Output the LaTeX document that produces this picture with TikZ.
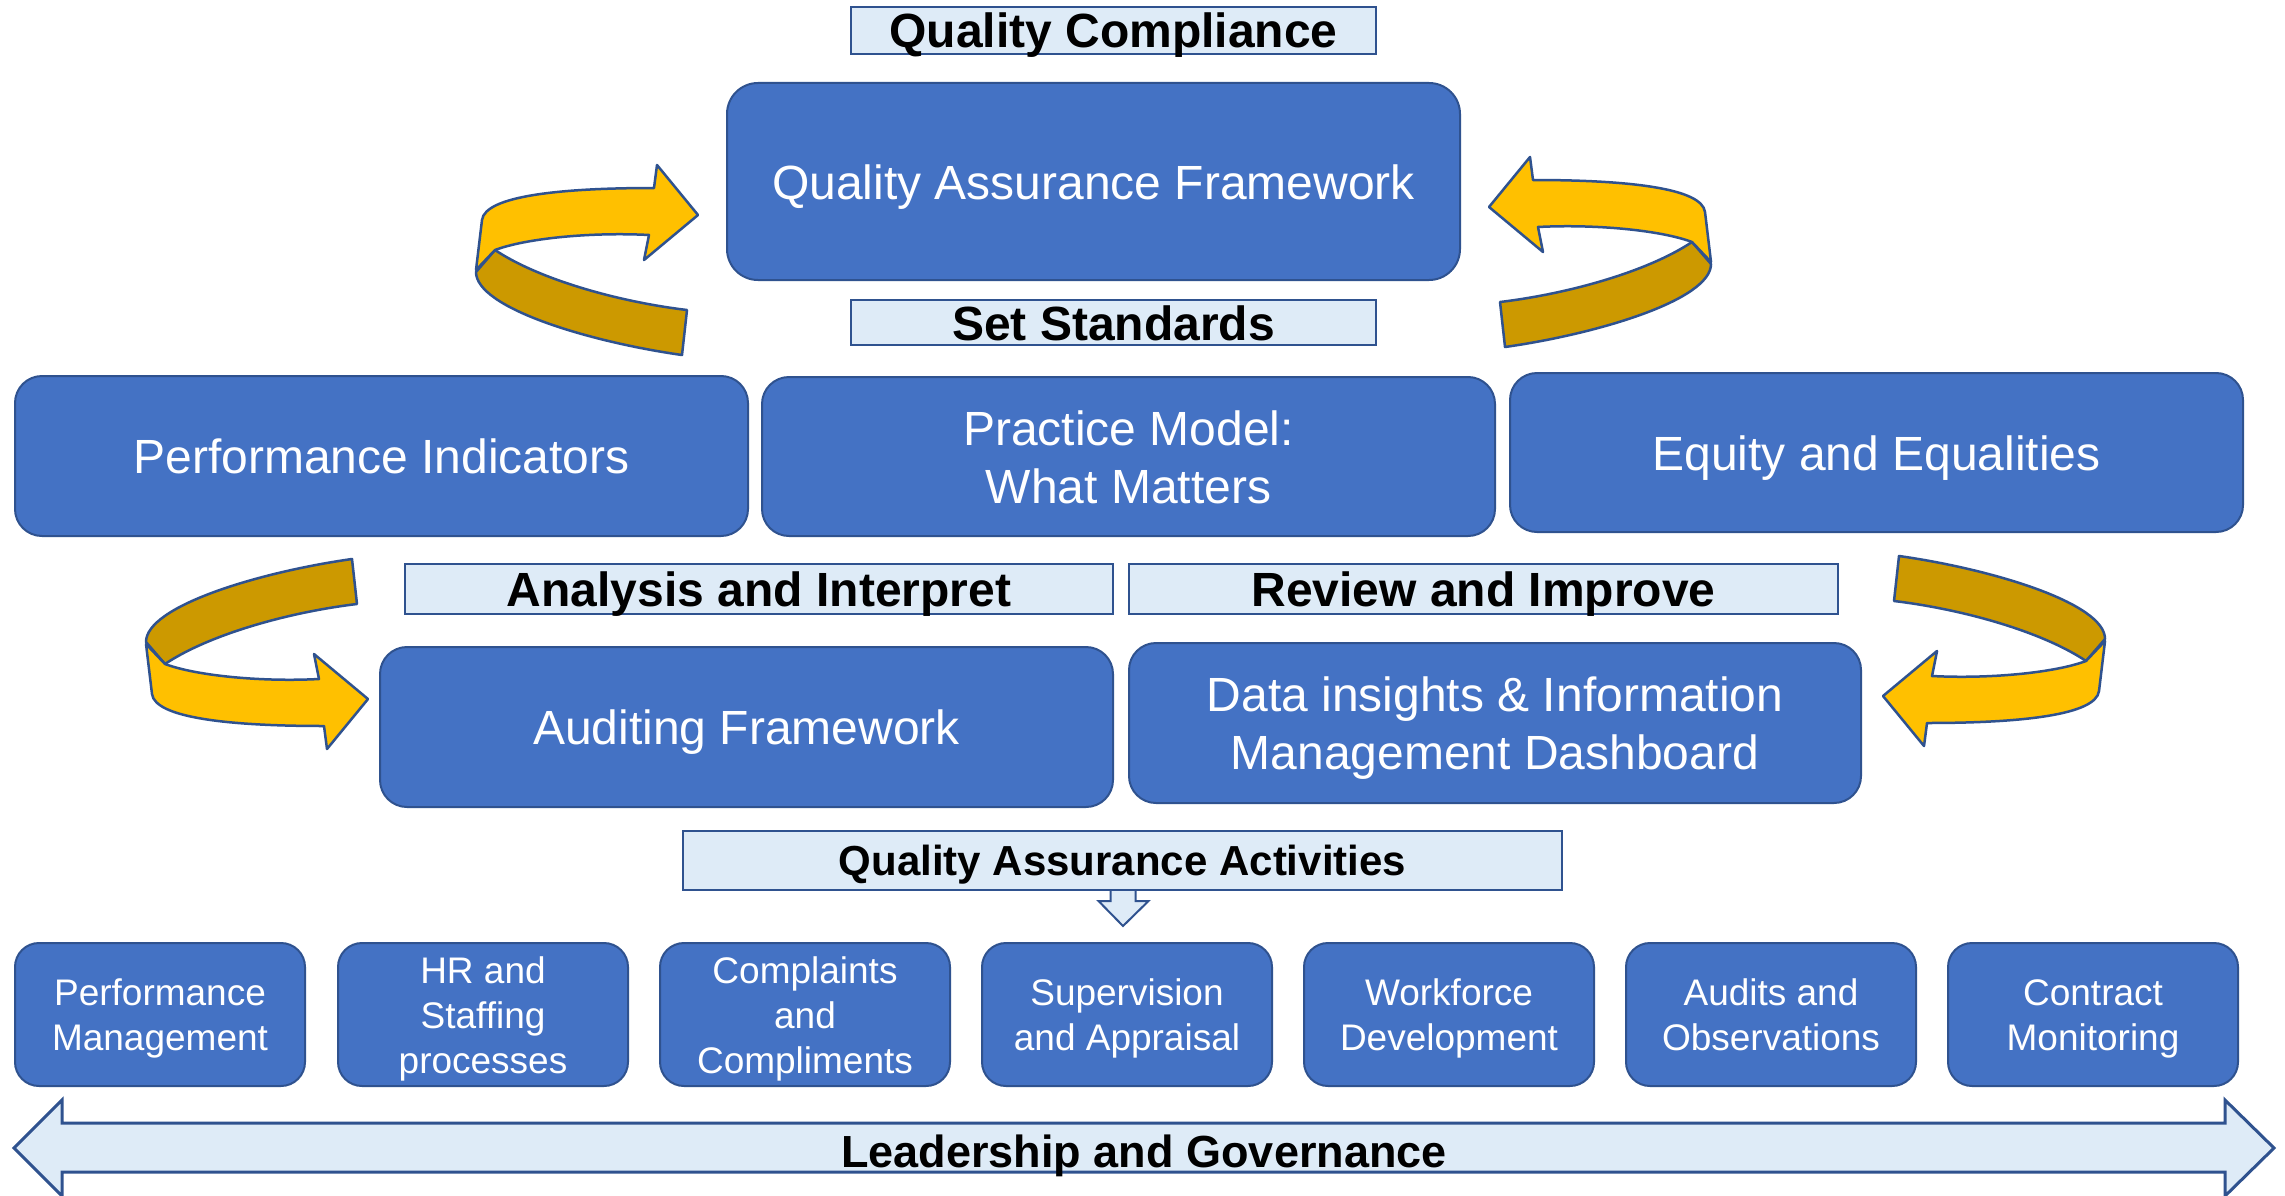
\documentclass[tikz,border=0pt]{standalone}
\usepackage{fontspec}
\setmainfont{Liberation Sans}
\definecolor{boxblue}{HTML}{4472C4}
\definecolor{bord}{HTML}{2F528F}
\definecolor{lightfill}{HTML}{DEEBF7}
\definecolor{goldA}{HTML}{FFC000}
\definecolor{goldB}{HTML}{CC9900}
\newcommand\mlines[1]{\begin{tabular}[t]{@{}c@{}}#1\end{tabular}}
\newcommand\qaCurl{%
  \filldraw[curlline, fill=goldB] (495,250) .. controls (540,280) and (620,302) .. (687,310)
    -- (682,355) .. controls (590,342) and (476,308) .. (476,272) -- cycle;
  \filldraw[curlline, fill=goldA] (698,215) -- (657,165) -- (654,188)
    .. controls (560,188) and (485,196) .. (482,220) -- (476,270) -- (495,250)
    .. controls (527,238) and (593,232) .. (649,235) -- (644,260) -- cycle;
}
\begin{document}
\begin{tikzpicture}[x={(1pt,0)}, y={(0,-1pt)},
  curlline/.style={draw=bord, line width=2.5pt, line join=round},
  bigbox/.style={draw=bord, fill=boxblue, line width=2pt, rounded corners=27pt,
    text=white, inner sep=0pt, text height=35pt, text depth=0pt,
    font=\fontsize{48}{58}\selectfont},
  smallbox/.style={draw=bord, fill=boxblue, line width=2pt, rounded corners=24pt,
    text=white, inner sep=0pt, minimum width=290pt, minimum height=143pt,
    text height=27pt, text depth=45pt, font=\fontsize{37}{45}\selectfont},
  lbl/.style={draw=bord, fill=lightfill, line width=2pt, inner sep=0pt,
    text=black, text height=35pt, text depth=0pt,
    font=\bfseries\fontsize{48}{50}\selectfont}]
\useasboundingbox (0,0) rectangle (2285,1196);
\fill[white] (0,0) rectangle (2285,1196);

% curved arrows
\begin{scope}\qaCurl\end{scope}
\begin{scope}[shift={(2187,-8)}, xscale=-1]\qaCurl\end{scope}
\begin{scope}[shift={(-330,914)}, yscale=-1]\qaCurl\end{scope}
\begin{scope}[shift={(2581,911)}, xscale=-1, yscale=-1]\qaCurl\end{scope}

% top
\node[lbl, minimum width=525pt, minimum height=47pt] (qc) at (1113.5,30.5) {Quality Compliance};
\node[bigbox, minimum width=733pt, minimum height=197pt, rounded corners=31pt] (qaf) at (1093.5,181.5) {Quality Assurance Framework};
\node[lbl, minimum width=525pt, minimum height=45pt] (ss) at (1113.5,322.5) {Set Standards};

% middle row
\node[bigbox, minimum width=733pt, minimum height=160pt] (pi) at (381.5,456) {Performance Indicators};
\node[bigbox, minimum width=733pt, minimum height=159pt, text depth=58pt] (pm) at (1128.5,456.5) {\mlines{Practice Model:\\What Matters}};
\node[bigbox, minimum width=733pt, minimum height=159pt] (eq) at (1876.5,452.5) {Equity and Equalities};

\node[lbl, minimum width=708pt, minimum height=50pt] (ai) at (759,589) {Analysis and Interpret};
\node[lbl, minimum width=709pt, minimum height=50pt] (ri) at (1483.5,589) {Review and Improve};

\node[bigbox, minimum width=733pt, minimum height=160pt] (af) at (746.5,727) {Auditing Framework};
\node[bigbox, minimum width=732pt, minimum height=160pt, text depth=58pt] (di) at (1495,723) {\mlines{Data insights \& Information\\Management Dashboard}};

% activities
\node[lbl, minimum width=879pt, minimum height=59pt, text height=30.7pt, font=\bfseries\fontsize{42}{44}\selectfont] (qaa) at (1122.5,860.5) {Quality Assurance Activities};
\path[fill=lightfill, draw=bord, line width=2pt, line join=miter, shift={(qaa.south)}]
  (-12,0) -- (-12,10) -- (-24,10) -- (0.5,35) -- (26,10) -- (13,10) -- (13,0);

\node[smallbox] (b1) at (160,1014.5) {\mlines{Performance\\Management}};
\node[smallbox, text depth=90pt] (b2) at (483,1014.5) {\mlines{HR and\\Staffing\\processes}};
\node[smallbox, text depth=90pt] (b3) at (805,1014.5) {\mlines{Complaints\\and\\Compliments}};
\node[smallbox] (b4) at (1127,1014.5) {\mlines{Supervision\\and Appraisal}};
\node[smallbox] (b5) at (1449,1014.5) {\mlines{Workforce\\Development}};
\node[smallbox] (b6) at (1771,1014.5) {\mlines{Audits and\\Observations}};
\node[smallbox] (b7) at (2093,1014.5) {\mlines{Contract\\Monitoring}};

% leadership arrow
\filldraw[fill=lightfill, draw=bord, line width=3pt, line join=miter]
  (14,1148) -- (62,1100) -- (62,1123) -- (2225,1123) -- (2225,1100) -- (2274,1148)
  -- (2225,1196) -- (2225,1172) -- (62,1172) -- (62,1196) -- cycle;
\node[inner sep=0pt, text height=33pt, text depth=0pt, font=\bfseries\fontsize{45}{47}\selectfont] (lg) at (1144,1151) {Leadership and Governance};
\end{tikzpicture}
\end{document}
